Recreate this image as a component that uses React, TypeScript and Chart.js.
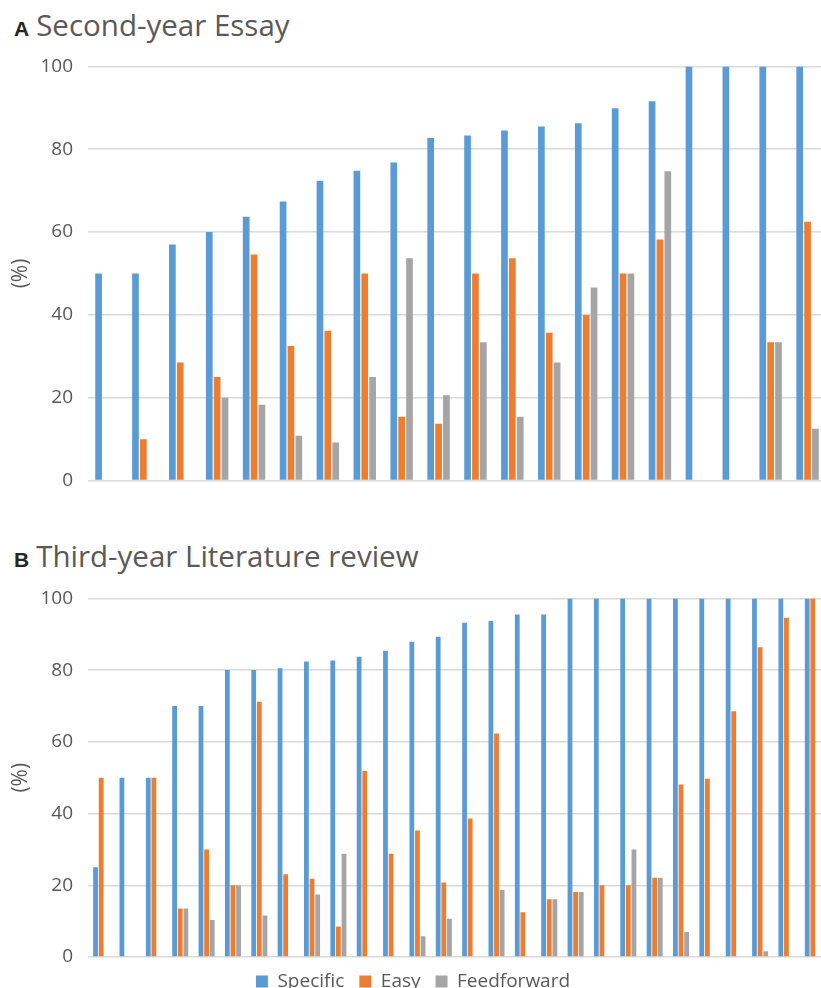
import React, { useEffect, useRef } from "react";
import { Chart, registerables } from "chart.js";

Chart.register(...registerables);

const essayCategories = ["1","2","3","4","5","6","7","8","9","10","11","12","13","14","15","16","17","18","19","20"];
const essaySpecific = [50, 50, 57, 60, 63.7, 67.4, 72.4, 74.8, 76.8, 82.7, 83.3, 84.5, 85.5, 86.3, 89.9, 91.6, 100, 100, 100, 100];
const essayEasy = [0, 10, 28.5, 25, 54.6, 32.5, 36.2, 50, 15.4, 13.7, 50, 53.7, 35.7, 40, 50, 58.2, 0, 0, 33.4, 62.5];
const essayFeedforward = [0, 0, 0, 20, 18.3, 10.8, 9.2, 25, 53.7, 20.6, 33.4, 15.4, 28.5, 46.6, 50, 74.7, 0, 0, 33.4, 12.5];

const reviewCategories = ["1","2","3","4","5","6","7","8","9","10","11","12","13","14","15","16","17","18","19","20","21","22","23","24","25","26","27","28"];
const reviewSpecific = [25, 50, 50, 70, 70, 80, 80, 80.5, 82.4, 82.7, 83.7, 85.4, 87.9, 89.3, 93.2, 93.7, 95.5, 95.5, 100, 100, 100, 100, 100, 100, 100, 100, 100, 100];
const reviewEasy = [50, 0, 50, 13.5, 30, 20, 71.2, 23.1, 21.8, 8.5, 51.9, 28.8, 35.3, 20.8, 38.6, 62.3, 12.5, 16.1, 18.1, 20, 20, 22.1, 48.1, 49.7, 68.5, 86.4, 94.6, 100];
const reviewFeedforward = [0, 0, 0, 13.5, 10.3, 20, 11.6, 0, 17.4, 28.8, 0, 0, 5.8, 10.7, 0, 18.7, 0, 16.1, 18.1, 0, 30, 22.1, 7, 0, 0, 1.6, 0, 0];

const seriesNames = ["Specific", "Easy", "Feedforward"];
const yTicks = [0, 20, 40, 60, 80, 100];
const yTitle = "(%)";

const COLORS = ["#5B9BD5", "#ED7D31", "#A5A5A5"];
const FONT = "'Open Sans', sans-serif";
const TEXT = "#595959";

function makeConfig(labels: string[], series: number[][], showLegend: boolean, pad: any): any {
  return {
    type: "bar",
    data: {
      labels,
      datasets: series.map((d, i) => ({
        label: seriesNames[i],
        data: d,
        backgroundColor: COLORS[i],
        borderWidth: 0,
        categoryPercentage: 0.64,
        barPercentage: 0.85,
      })),
    },
    options: {
      responsive: false,
      animation: false,
      devicePixelRatio: 1,
      layout: { padding: pad },
      plugins: {
        tooltip: { enabled: false },
        title: { display: false },
        legend: {
          display: showLegend,
          position: "bottom",
          labels: {
            boxWidth: 12,
            boxHeight: 12,
            padding: 15,
            color: TEXT,
            font: { family: FONT, size: 19 },
          },
        },
      },
      scales: {
        x: { display: false },
        y: {
          min: 0,
          max: 100,
          afterBuildTicks: (scale: any) => {
            scale.ticks = yTicks.map((v) => ({ value: v }));
          },
          afterFit: (scale: any) => {
            scale.width = 88;
          },
          border: { display: false },
          grid: { color: "#D9D9D9", lineWidth: 1.5, drawTicks: false },
          ticks: {
            padding: 15,
            color: TEXT,
            font: { family: FONT, size: 19 },
          },
          title: {
            display: true,
            text: yTitle,
            color: TEXT,
            font: { family: FONT, size: 21 },
            padding: { top: 8, bottom: 0 },
          },
        },
      },
    },
  };
}

function BarPanel(props: { labels: string[]; series: number[][]; legend: boolean; top: number; height: number; pad: any }) {
  const ref = useRef<HTMLCanvasElement | null>(null);
  useEffect(() => {
    if (!ref.current) return;
    const chart = new Chart(ref.current, makeConfig(props.labels, props.series, props.legend, props.pad));
    return () => chart.destroy();
  }, []);
  return (
    <canvas
      ref={ref}
      width={826}
      height={props.height}
      style={{ position: "absolute", left: 0, top: props.top, width: 826, height: props.height }}
    />
  );
}

function PanelTitle(props: { letter: string; text: string; top: number }) {
  return (
    <div
      style={{
        position: "absolute",
        left: 14,
        top: props.top,
        fontFamily: FONT,
        fontSize: 29.5,
        lineHeight: "36px",
        color: TEXT,
        whiteSpace: "nowrap",
      }}
    >
      <span style={{ fontWeight: 700, fontSize: 21, color: "#262626", marginRight: 7, fontFamily: "'Liberation Sans', Arial, sans-serif" }}>{props.letter}</span>
      {props.text}
    </div>
  );
}

export default function App() {
  return (
    <div
      style={{
        position: "fixed",
        left: 0,
        top: 0,
        width: 821,
        height: 988,
        overflow: "hidden",
        background: "#fff",
      }}
    >
      <PanelTitle letter="A" text="Second-year Essay" top={7} />
      <BarPanel
        labels={essayCategories}
        series={[essaySpecific, essayEasy, essayFeedforward]}
        legend={false}
        top={40}
        height={467}
        pad={{ top: 20, bottom: 15, left: 0, right: 0 }}
      />
      <PanelTitle letter="B" text="Third-year Literature review" top={538} />
      <BarPanel
        labels={reviewCategories}
        series={[reviewSpecific, reviewEasy, reviewFeedforward]}
        legend={true}
        top={572}
        height={429}
        pad={{ top: 22, bottom: 0, left: 0, right: 0 }}
      />
    </div>
  );
}
